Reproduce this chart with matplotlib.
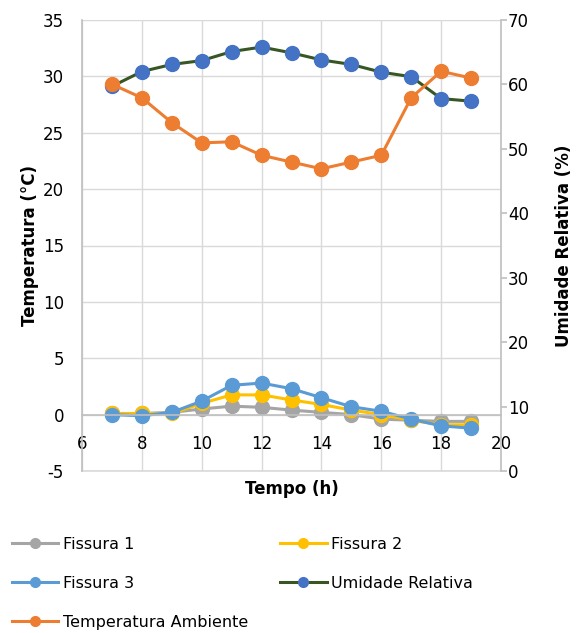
import numpy as np
import matplotlib
matplotlib.use('Agg')
import matplotlib.pyplot as plt

# dados
hora = [7, 8, 9, 10, 11, 12, 13, 14, 15, 16, 17, 18, 19]
fissura1 = [0.1, 0.1, 0.2, 0.5, 0.75, 0.65, 0.4, 0.2, 0.0, -0.4, -0.5, -0.6, -0.6]
fissura2 = [0.1, 0.1, 0.1, 1.0, 1.75, 1.75, 1.3, 0.9, 0.4, 0.0, -0.5, -0.9, -0.9]
fissura3 = [0.0, -0.1, 0.2, 1.2, 2.6, 2.8, 2.3, 1.5, 0.7, 0.3, -0.4, -1.0, -1.2]
temp_amb = [29.3, 28.1, 25.9, 24.1, 24.2, 23.0, 22.4, 21.8, 22.4, 23.0, 28.1, 30.45, 29.85]
umidade = [59.7, 62.0, 63.1, 63.7, 65.1, 65.8, 64.9, 63.8, 63.1, 61.9, 61.2, 57.8, 57.4]

plt.rcParams['font.family'] = 'DejaVu Sans'
plt.rcParams['font.size'] = 12
plt.rcParams['axes.unicode_minus'] = False

fig = plt.figure(figsize=(5.82, 6.33), dpi=100)
ax = fig.add_axes([82/582, 1 - 471/633, (501-82)/582, (471-20)/633])
ax2 = ax.twinx()

grid_c = '#d9d9d9'
axis_c = '#bfbfbf'
lw = 2.2
ms = 10

l1, = ax.plot(hora, fissura1, color='#a5a5a5', lw=lw, marker='o', ms=ms, label='Fissura 1')
l2, = ax.plot(hora, fissura2, color='#ffc000', lw=lw, marker='o', ms=ms, label='Fissura 2')
l3, = ax.plot(hora, fissura3, color='#5b9bd5', lw=lw, marker='o', ms=ms, label='Fissura 3')
l4, = ax2.plot(hora, umidade, color='#375623', lw=lw, marker='o', ms=ms,
               mfc='#4472c4', mec='#4472c4', label='Umidade Relativa')
# temperatura desenhada por cima, na escala do eixo esquerdo
l5, = ax2.plot(hora, temp_amb, color='#ed7d31', lw=lw, marker='o', ms=ms,
               transform=ax.transData, label='Temperatura Ambiente')

ax.set_xlim(6, 20)
ax.set_ylim(-5, 35)
ax2.set_ylim(0, 70)
ax.set_xticks(np.arange(6, 21, 2))
ax.set_yticks(np.arange(-5, 36, 5))
ax2.set_yticks(np.arange(0, 71, 10))

ax.grid(True, color=grid_c, lw=1)
ax.set_axisbelow(True)
ax.axhline(-5, color=grid_c, lw=1.2, clip_on=False, zorder=0)

ax.spines['top'].set_visible(False)
ax2.spines['top'].set_visible(False)
ax2.spines['left'].set_visible(False)
ax2.spines['bottom'].set_visible(False)
ax.spines['right'].set_visible(False)
ax.spines['bottom'].set_position(('data', 0))
for s in ['left', 'bottom']:
    ax.spines[s].set_color(axis_c)
    ax.spines[s].set_linewidth(1.2)
ax2.spines['right'].set_color(axis_c)
ax2.spines['right'].set_linewidth(1.2)

ax.tick_params(axis='x', length=0, pad=15, labelsize=12)
ax.tick_params(axis='y', length=0, pad=13, labelsize=12)
ax2.tick_params(axis='y', length=4, width=1.2, color=axis_c, pad=1, labelsize=12)

ax.set_ylabel('Temperatura (°C)', fontweight='bold', fontsize=12, labelpad=3)
ax2.set_ylabel('Umidade Relativa (%)', fontweight='bold', fontsize=12, labelpad=19)
fig.text(291.5/582, 1 - 489/633, 'Tempo (h)', fontweight='bold', fontsize=12,
         ha='center', va='center')

handles = [l1, l3, l5, l2, l4]
fig.legend(handles, [h.get_label() for h in handles], ncol=2, frameon=False,
           loc='upper left', bbox_to_anchor=(4/582, 1 - 529/633),
           borderpad=0, handlelength=2.9, handletextpad=0.3, markerscale=0.7,
           labelspacing=1.5, columnspacing=2.0, fontsize=11.5)

fig.savefig('out.png', dpi=100)
